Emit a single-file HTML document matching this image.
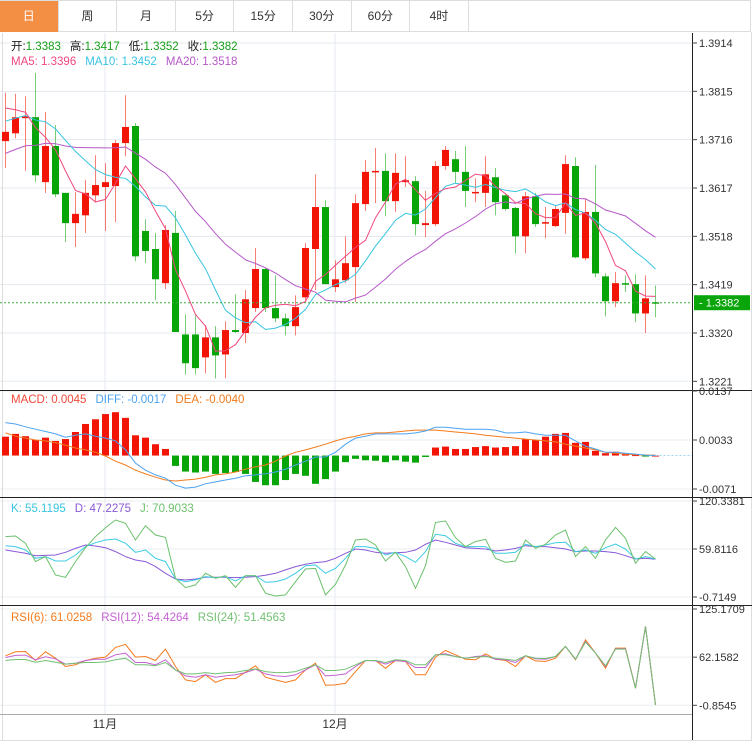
<!DOCTYPE html>
<html><head><meta charset="utf-8">
<style>
body{margin:0;background:#fff;width:755px;height:752px;overflow:hidden;font-family:"Liberation Sans","Noto Sans CJK SC",sans-serif;}
#tabs{position:absolute;left:0;top:0;width:751px;height:32px;border:1px solid #ddd;border-left:none;box-sizing:border-box;display:flex;}
.tab{width:58.6px;height:31px;line-height:31px;text-align:center;font-size:12px;color:#333;border-right:1px solid #ddd;box-sizing:border-box;}
.tab.on{background:#f28f45;color:#fff;}
svg{position:absolute;left:0;top:0;}
</style></head><body>
<div id="tabs">
<div class="tab on">日</div>
<div class="tab">周</div>
<div class="tab">月</div>
<div class="tab">5分</div>
<div class="tab">15分</div>
<div class="tab">30分</div>
<div class="tab">60分</div>
<div class="tab">4时</div>
</div>
<svg id="chart" width="755" height="752"></svg>
<script>
const opens=[1.3713,1.3729,1.3760,1.3762,1.3629,1.3703,1.3607,1.3545,1.3561,1.3602,1.3619,1.3621,1.3709,1.3744,1.3529,1.3492,1.3422,1.3525,1.3317,1.3317,1.3270,1.3311,1.3276,1.3326,1.3320,1.3371,1.3451,1.3371,1.3350,1.3334,1.3393,1.3492,1.3578,1.3414,1.3428,1.3455,1.3584,1.3650,1.3652,1.3590,1.3629,1.3631,1.3541,1.3543,1.3662,1.3676,1.3650,1.3607,1.3607,1.3639,1.3602,1.3576,1.3518,1.3600,1.3545,1.3539,1.3566,1.3662,1.3473,1.3568,1.3436,1.3385,1.3422,1.3420,1.3360,1.3383];
const highs=[1.3812,1.3810,1.3805,1.3853,1.3773,1.3746,1.3607,1.3609,1.3633,1.3684,1.3668,1.3715,1.3807,1.3750,1.3553,1.3525,1.3541,1.3570,1.3358,1.3356,1.3336,1.3334,1.3344,1.3399,1.3408,1.3494,1.3453,1.3438,1.3360,1.3397,1.3504,1.3645,1.3592,1.3469,1.3518,1.3604,1.3674,1.3699,1.3688,1.3688,1.3682,1.3641,1.3611,1.3672,1.3703,1.3693,1.3703,1.3637,1.3682,1.3658,1.3604,1.3578,1.3609,1.3607,1.3578,1.3580,1.3684,1.3680,1.3596,1.3664,1.3442,1.3445,1.3438,1.3440,1.3438,1.3417];
const lows=[1.3658,1.3719,1.3652,1.3629,1.3607,1.3598,1.3506,1.3496,1.3525,1.3588,1.3529,1.3547,1.3682,1.3467,1.3463,1.3387,1.3410,1.3322,1.3235,1.3235,1.3237,1.3227,1.3227,1.3320,1.3299,1.3363,1.3363,1.3342,1.3315,1.3315,1.3387,1.3408,1.3420,1.3404,1.3422,1.3383,1.3570,1.3586,1.3559,1.3568,1.3619,1.3520,1.3516,1.3539,1.3654,1.3627,1.3578,1.3588,1.3578,1.3561,1.3570,1.3483,1.3483,1.3537,1.3514,1.3537,1.3523,1.3473,1.3469,1.3434,1.3354,1.3373,1.3404,1.3342,1.3320,1.3352];
const closes=[1.3732,1.3762,1.3764,1.3643,1.3703,1.3604,1.3545,1.3564,1.3607,1.3623,1.3629,1.3709,1.3742,1.3477,1.3488,1.3430,1.3531,1.3322,1.3258,1.3248,1.3311,1.3274,1.3326,1.3322,1.3389,1.3451,1.3371,1.3350,1.3334,1.3373,1.3494,1.3578,1.3420,1.3430,1.3463,1.3586,1.3650,1.3652,1.3590,1.3648,1.3633,1.3543,1.3545,1.3662,1.3695,1.3650,1.3611,1.3609,1.3645,1.3588,1.3574,1.3518,1.3600,1.3543,1.3547,1.3574,1.3666,1.3475,1.3568,1.3442,1.3385,1.3422,1.3420,1.3360,1.3391,1.3382];
const prevCloses=[1.3600,1.3615,1.3630,1.3610,1.3625,1.3640,1.3620,1.3615,1.3630,1.3635,1.3700,1.3715,1.3730,1.3740,1.3750,1.3780,1.3790,1.3800,1.3802];
const priceTicks=["1.3914","1.3815","1.3716","1.3617","1.3518","1.3419","1.3320","1.3221"];
const macdHist=[0.0040,0.0046,0.0041,0.0033,0.0038,0.0031,0.0035,0.0050,0.0067,0.0077,0.0088,0.0092,0.0080,0.0043,0.0038,0.0024,0.0014,-0.0022,-0.0034,-0.0036,-0.0034,-0.0039,-0.0037,-0.0035,-0.0039,-0.0056,-0.0063,-0.0063,-0.0052,-0.0039,-0.0043,-0.0060,-0.0050,-0.0034,-0.0014,-0.0007,-0.0010,-0.0011,-0.0014,-0.0010,-0.0013,-0.0015,-0.0003,0.0017,0.0019,0.0014,0.0014,0.0018,0.0020,0.0017,0.0018,0.0020,0.0035,0.0033,0.0040,0.0046,0.0048,0.0027,0.0029,0.0010,0.0005,0.0008,0.0003,0.0001,-0.0001,0.0000];
const diffLine=[0.0070,0.0067,0.0061,0.0056,0.0051,0.0046,0.0039,0.0043,0.0046,0.0041,0.0037,0.0031,0.0012,-0.0016,-0.0031,-0.0041,-0.0048,-0.0063,-0.0069,-0.0067,-0.0060,-0.0056,-0.0052,-0.0048,-0.0043,-0.0041,-0.0039,-0.0035,-0.0029,-0.0020,-0.0012,-0.0003,-0.0003,0.0007,0.0024,0.0037,0.0041,0.0046,0.0046,0.0046,0.0046,0.0048,0.0052,0.0060,0.0060,0.0058,0.0056,0.0056,0.0056,0.0054,0.0048,0.0048,0.0050,0.0046,0.0043,0.0043,0.0043,0.0031,0.0020,0.0014,0.0007,0.0007,0.0005,0.0003,0.0001,0.0000];
const deaLine=[0.0048,0.0041,0.0037,0.0033,0.0031,0.0027,0.0022,0.0016,0.0012,0.0007,-0.0001,-0.0012,-0.0020,-0.0031,-0.0039,-0.0046,-0.0052,-0.0054,-0.0052,-0.0050,-0.0046,-0.0041,-0.0039,-0.0035,-0.0029,-0.0024,-0.0020,-0.0012,-0.0001,0.0007,0.0012,0.0018,0.0024,0.0031,0.0037,0.0041,0.0046,0.0048,0.0048,0.0050,0.0052,0.0054,0.0054,0.0054,0.0052,0.0050,0.0048,0.0046,0.0043,0.0041,0.0039,0.0037,0.0035,0.0033,0.0031,0.0029,0.0024,0.0020,0.0016,0.0012,0.0007,0.0005,0.0003,0.0002,0.0001,0.0001];
const macdTicks=["0.0137","0.0033","-0.0071"];
const kLine=[64,62.8,58.6,48.1,50.2,44.7,44.7,52.3,62.8,67.8,71.2,72.4,67,55.6,58.6,48.1,43.9,22,18.6,20.8,25,23.7,25,19.5,26.2,26.2,17.8,18.6,22,29.2,38.8,39.6,29.2,35.5,48.1,62.8,62.8,60.6,52.3,55.6,50.2,43,56.5,78.3,76.6,67,62.8,62.8,62.8,54.4,54.4,55.6,65.7,62.8,64.9,67.8,68.2,56.5,58.6,54.4,61.5,66.1,59.8,47.2,50.2,47.2];
const dLine=[58.5,56.5,54.4,51.4,51.8,52.3,55.6,60.6,64.9,63.6,61.5,56.5,50.2,46,43.9,37.6,29.2,22,20.7,22,24.1,24.1,24.1,23.7,24.1,25,26.6,29.2,33.4,37.6,40.5,42.6,43.9,48.1,54.4,59.8,58.6,55.6,54.4,55.2,55.6,58.6,65.7,71.2,68.2,64.9,61.5,60.6,59.8,57.3,58.6,60.6,64,62.8,62.8,61.5,59.8,56.5,57.3,57.3,56.5,55.2,51.4,47.2,48.1,46.8];
const jLine=[75.4,76.2,67,43.9,50.2,27,24.1,43.9,61.5,75.4,86.7,96.4,92.2,71.2,89.2,77.5,74.5,22.9,11.1,14.5,29.2,22.9,26.2,11.5,26.2,26.2,3.9,0.6,1.9,18.6,34.6,35.4,1.9,15.3,39.6,71.2,72.4,64.9,44.7,55.6,37.6,10.3,38.8,93.4,95.1,74.1,62.8,69.1,72,48.1,43,44.7,71.2,60.7,65.7,77.5,83.7,50.2,62.8,48.1,71.2,87.1,73.3,41.8,56.5,47.2];
const kdjTicks=["120.3381","59.8116","-0.7149"];
const rsi6=[63.9,69.2,69.6,57.8,69.2,60.8,49.9,52.1,57.8,60.8,62.2,74.9,78.8,62.2,63.0,57.8,72.7,49.9,32.4,30.2,39.0,29.3,34.1,34.1,42.5,50.8,35.9,32.4,29.3,32.4,45.5,54.3,25.4,25.8,28.0,43.3,57.8,57.8,47.7,57.8,56.5,39.0,39.0,62.2,70.9,65.2,59.5,58.7,66.5,59.5,57.8,49.9,63.9,57.3,56.5,60.8,76.2,58.7,84.9,67.4,47.7,74.0,74.0,21.5,102.4,-0.4];
const rsi12=[61.7,64.4,64.8,58.7,62.6,60.0,53.0,54.3,57.8,59.5,59.5,65.2,67.4,55.2,55.2,52.1,58.7,45.5,37.6,35.9,39.0,35.9,37.6,39.0,42.0,46.4,40.3,37.6,36.8,39.0,45.5,52.1,37.6,38.5,40.3,49.9,57.8,57.3,53.0,57.8,56.5,48.6,48.6,65.2,66.5,63.0,60.8,63.0,63.9,59.5,58.7,55.2,63.9,60.0,59.5,63.0,76.2,59.5,82.7,67.4,49.9,73.1,73.1,21.5,102.4,-0.4];
const rsi24=[57.8,59.1,59.1,55.6,57.8,55.6,53.0,54.3,55.2,55.2,56.0,58.7,60.8,52.1,52.1,50.8,55.2,45.5,40.3,40.3,42.0,40.3,42.0,42.5,44.7,46.8,43.3,42.0,42.0,43.3,47.7,52.1,44.7,44.7,46.4,52.1,57.8,57.8,55.2,58.7,57.8,52.1,52.1,65.2,65.2,63.0,60.8,62.2,63.0,60.8,59.5,57.8,63.9,60.8,60.4,63.0,76.2,59.5,81.8,67.4,50.8,72.7,72.7,21.5,102.4,-0.4];
const rsiTicks=["125.1709","62.1582","-0.8545"];
const monthLabels=["11月","12月"];
const monthIndex=[10,33];

const NS="http://www.w3.org/2000/svg";
const svg=document.getElementById('chart');
function mk(tag,attrs,parent){const e=document.createElementNS(NS,tag);for(const k in attrs)e.setAttribute(k,attrs[k]);(parent||svg).appendChild(e);return e;}
const RED="#f21505",GREEN="#07a507";
const xOf=i=>5.5+10*i;
const yP=p=>43+(1.3914-p)/0.0099*48.33;
const yM=v=>391+(0.0137-v)/0.0208*98;
const yK=v=>501+(120.3381-v)/121.0530*96;
const yR=v=>609+(125.1709-v)/126.0254*96.3;

// grids
const grid=mk('g',{});


priceTicks.forEach(t=>mk('line',{x1:0,x2:692,y1:yP(+t),y2:yP(+t),stroke:"#e4eaf0"},grid));
macdTicks.forEach(t=>mk('line',{x1:0,x2:692,y1:yM(+t),y2:yM(+t),stroke:"#e8eef2"},grid));
kdjTicks.forEach(t=>mk('line',{x1:0,x2:692,y1:yK(+t),y2:yK(+t),stroke:"#e8eef2"},grid));
rsiTicks.forEach(t=>mk('line',{x1:0,x2:692,y1:yR(+t),y2:yR(+t),stroke:"#e8eef2"},grid));
monthIndex.forEach(i=>mk('line',{x1:xOf(i)-0.5,x2:xOf(i)-0.5,y1:33,y2:714,stroke:"#e4eaf0"},grid));
mk('line',{x1:2.5,x2:2.5,y1:33,y2:740,stroke:"#ddd"},grid);
mk('line',{x1:751.5,x2:751.5,y1:32,y2:740,stroke:"#ddd"},grid);
mk('line',{x1:0,x2:752,y1:740.5,y2:740.5,stroke:"#ddd"},grid);

// candles
const cg=mk('g',{});


closes.forEach((c,i)=>{
  const o=opens[i],col=c>=o?RED:GREEN,x=xOf(i);
  const w=mk('line',{x1:x,x2:x,y1:yP(highs[i]),y2:yP(lows[i]),stroke:col,'stroke-opacity':0.55,'stroke-width':1},cg);
  
  
  const t=Math.min(yP(o),yP(c)),h=Math.max(1.5,Math.abs(yP(o)-yP(c)));
  const b=mk('rect',{x:x-3.5,y:t,width:7,height:h,fill:col},cg);
  
  
});
// MA
const all=prevCloses.concat(closes),np=prevCloses.length;
function ma(n){return closes.map((_,i)=>{let s=0;for(let k=0;k<n;k++)s+=all[np+i-k];return s/n;});}
function poly(vals,yf,color,name,w){
  const pts=vals.map((v,i)=>xOf(i)+','+yf(v).toFixed(1)).join(' ');
  const p=mk('polyline',{points:pts,fill:'none',stroke:color,'stroke-width':w||1});
  
  
}
poly(ma(20),yP,"#b658c8",'ma20-line');
poly(ma(10),yP,"#38c4e0",'ma10-line');
poly(ma(5),yP,"#f0477e",'ma5-line');
// current price line
const cur=closes[closes.length-1];
const cl=mk('line',{x1:0,x2:692,y1:yP(cur),y2:yP(cur),stroke:"#3caa3c",'stroke-dasharray':'2,2'});



// MACD
const mg=mk('g',{});


const z=yM(0);
macdHist.forEach((v,i)=>{
  const y=yM(v),r=mk('rect',{x:xOf(i)-3.5,y:Math.min(y,z),width:7,height:Math.max(1,Math.abs(y-z)),fill:v>=0?RED:GREEN},mg);
  
  
});
const zl=mk('line',{x1:xOf(macdHist.length-1),x2:692,y1:z,y2:z,stroke:"#9fd4f0",'stroke-dasharray':'2,2'});


poly(deaLine,yM,"#f37b1d",'dea-line');
poly(diffLine,yM,"#4ca3f0",'diff-line');
// KDJ
poly(dLine,yK,"#8a58d6",'kdj-d-line');
poly(kLine,yK,"#3ccbe2",'kdj-k-line');
poly(jLine,yK,"#6cc06c",'kdj-j-line');
// RSI
poly(rsi6,yR,"#f37b1d",'rsi6-line');
poly(rsi12,yR,"#c462d2",'rsi12-line');
poly(rsi24,yR,"#72c072",'rsi24-line');

// separators & axis
[390.5,497.5,605.5].forEach(y=>mk('line',{x1:0,x2:752,y1:y,y2:y,stroke:"#222"}));
mk('line',{x1:0,x2:692,y1:714.5,y2:714.5,stroke:"#aaa"});
const ax=mk('line',{x1:692.5,x2:692.5,y1:33,y2:740,stroke:"#222"});


function tick(label,y,name){
  mk('line',{x1:692,x2:697,y1:y,y2:y,stroke:"#444"});
  const t=mk('text',{x:699,y:y+4,'font-size':11,fill:"#333"});
  t.textContent=label;
  
  
}
priceTicks.forEach(t=>tick(t,yP(+t),'price-tick-label'));
macdTicks.forEach(t=>tick(t,yM(+t),'macd-tick-label'));
kdjTicks.forEach(t=>tick(t,yK(+t),'kdj-tick-label'));
rsiTicks.forEach(t=>tick(t,yR(+t),'rsi-tick-label'));
// current price tag
const ty=yP(cur);
const tag=mk('rect',{x:694,y:ty-7.5,width:56,height:15,fill:"#0aa50a"});


const tt=mk('text',{x:699,y:ty+4,'font-size':11,fill:"#fff"});
tt.textContent="- "+cur.toFixed(4);


// month labels
monthLabels.forEach((m,k)=>{
  const t=mk('text',{x:xOf(monthIndex[k])-0.5,y:728,'font-size':12,fill:"#333",'text-anchor':'middle'});
  t.textContent=m;
  
  
});
// legends
function legend(y,parts,name){
  const t=mk('text',{x:11,y:y,'font-size':11.5});
  
  
  parts.forEach(([s,c,dx])=>{const sp=mk('tspan',{fill:c},t);if(dx)sp.setAttribute('dx',dx);sp.textContent=s;});
}
legend(50,[["开:","#222"],["1.3383","#17a017"],["高:","#222",9],["1.3417","#17a017"],["低:","#222",9],["1.3352","#17a017"],["收:","#222",9],["1.3382","#17a017"]],'ohlc-legend');
legend(65,[["MA5: 1.3396","#f0477e"],["MA10: 1.3452","#38c4e0",9],["MA20: 1.3518","#b658c8",9]],'ma-legend');
legend(403,[["MACD: 0.0045","#f04a3a"],["DIFF: -0.0017","#4ca3f0",9],["DEA: -0.0040","#f37b1d",9]],'macd-legend');
legend(512,[["K: 55.1195","#38c4e0"],["D: 47.2275","#8a58d6",9],["J: 70.9033","#6cc06c",9]],'kdj-legend');
legend(621,[["RSI(6): 61.0258","#f37b1d"],["RSI(12): 54.4264","#c462d2",9],["RSI(24): 51.4563","#72c072",9]],'rsi-legend');
</script>
</body></html>
